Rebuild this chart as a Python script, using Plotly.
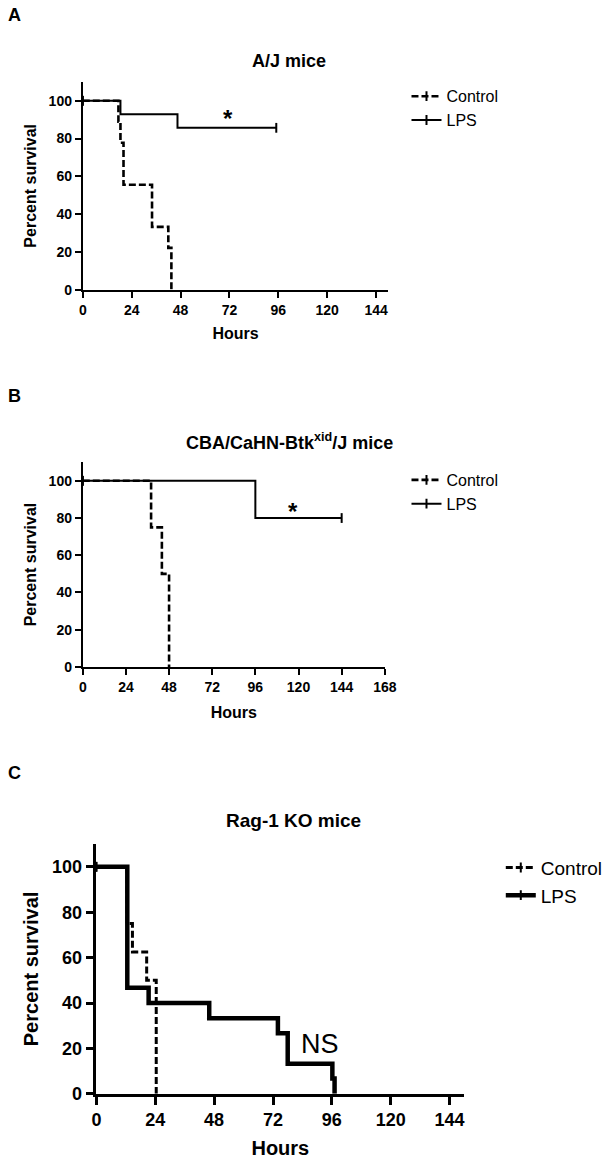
import plotly.graph_objects as go

# Kaplan-Meier step data (hours, percent survival)
a_ctrl_t = [0, 17.5, 18.5, 20, 34, 42, 43.5]
a_ctrl_s = [100, 88.9, 77.8, 55.6, 33.3, 22.2, 0]
a_lps_t = [0, 18.5, 46.5, 95]
a_lps_s = [100, 92.9, 85.7, 85.7]

b_ctrl_t = [0, 38, 44, 48]
b_ctrl_s = [100, 75, 50, 0]
b_lps_t = [0, 96, 144]
b_lps_s = [100, 80, 80]

c_ctrl_t = [0, 12.5, 14.7, 20.5, 24.4]
c_ctrl_s = [100, 75, 62.5, 50, 0]
c_lps_t = [0, 12.6, 21.3, 46, 74, 78, 96.2, 97.1]
c_lps_s = [100, 46.7, 40, 33.3, 26.7, 13.3, 6.7, 0]

panel_titles = ["A/J mice", "CBA/CaHN-Btk<sup>xid</sup>/J mice", "Rag-1 KO mice"]
panel_letters = ["A", "B", "C"]
notes = ["*", "*", "NS"]
note_pos = [(71.5, 90.5), (117, 83.5), (91, 22)]

x_ticks_ab = [0, 24, 48, 72, 96, 120, 144]
x_ticks_b = [0, 24, 48, 72, 96, 120, 144, 168]
y_ticks = [0, 20, 40, 60, 80, 100]

W, H = 610, 1165
FONT = "Liberation Sans, Arial, sans-serif"


def px(x):
    return x / W


def py(y):
    return 1 - y / H


def censor_colors(n, censored):
    # tick marker only on the first point (hidden on the y axis) and on a censored end
    cols = ["rgba(0,0,0,0)"] * n
    cols[0] = "black"
    if censored:
        cols[-1] = "black"
    return cols


panels = [
    dict(ctrl=(a_ctrl_t, a_ctrl_s), lps=(a_lps_t, a_lps_s), lps_cens=True,
         xd=(80, 394.3), yd=(292.3, 82.6), xr=150, xt=x_ticks_ab,
         lw_solid=2, lw_dash=2.6, ax_lw=2, ticklen=6, tick=14, axt=16, ttl=18,
         leg=16, note=24, xstand=11),
    dict(ctrl=(b_ctrl_t, b_ctrl_s), lps=(b_lps_t, b_lps_s), lps_cens=True,
         xd=(80, 390.7), yd=(672.7, 466.2), xr=168, xt=x_ticks_b,
         lw_solid=2, lw_dash=2.6, ax_lw=2, ticklen=6, tick=14, axt=16, ttl=18,
         leg=16, note=24, xstand=13),
    dict(ctrl=(c_ctrl_t, c_ctrl_s), lps=(c_lps_t, c_lps_s), lps_cens=False,
         xd=(94, 472.5), yd=(1103.3, 851.4), xr=150, xt=x_ticks_ab,
         lw_solid=4.5, lw_dash=3, ax_lw=2.5, ticklen=8, tick=18, axt=20, ttl=19,
         leg=19, note=27, xstand=12),
]

legend_pos = [(413, 80), (413, 467), (510, 856)]
title_pos = [(291.7, 62), (293, 445), (296.7, 828)]
letter_pos = [(1, 15), (1, 399), (1, 780)]

fig = go.Figure()
annotations = []
layout = {}

for i, p in enumerate(panels):
    k = "" if i == 0 else str(i + 1)
    xa, ya = "x" + k, "y" + k
    leg = "legend" + k
    ct, cs = p["ctrl"]
    lt, ls = p["lps"]
    fig.add_trace(go.Scatter(
        x=ct, y=cs, name="Control", mode="lines+markers", line_shape="hv",
        line=dict(color="black", width=p["lw_dash"], dash="7px,3px"),
        marker=dict(symbol="line-ns", size=7, color="black",
                    line=dict(width=2, color=censor_colors(len(ct), False))),
        xaxis=xa, yaxis=ya, legend=leg, cliponaxis=False))
    fig.add_trace(go.Scatter(
        x=lt, y=ls, name="LPS", mode="lines+markers", line_shape="hv",
        line=dict(color="black", width=p["lw_solid"]),
        marker=dict(symbol="line-ns", size=7, color="black",
                    line=dict(width=2, color=censor_colors(len(lt), p["lps_cens"]))),
        xaxis=xa, yaxis=ya, legend=leg, cliponaxis=False))

    axis_common = dict(showline=True, linewidth=p["ax_lw"], linecolor="black",
                       ticks="outside", ticklen=p["ticklen"], tickwidth=p["ax_lw"],
                       tickcolor="black", showgrid=False, zeroline=False,
                       tickfont=dict(family=FONT, size=p["tick"], color="black",
                                     weight="bold"))
    layout["xaxis" + k] = dict(
        axis_common, domain=[px(p["xd"][0]), px(p["xd"][1])], range=[0, p["xr"]],
        tickvals=p["xt"], anchor=ya,
        title=dict(text="Hours", standoff=p["xstand"],
                   font=dict(family=FONT, size=p["axt"], color="black", weight="bold")))
    layout["yaxis" + k] = dict(
        axis_common, domain=[py(p["yd"][0]), py(p["yd"][1])], range=[0, 110],
        tickvals=y_ticks, anchor=xa,
        title=dict(text="Percent survival", standoff=8,
                   font=dict(family=FONT, size=p["axt"], color="black", weight="bold")))
    lx, ly = legend_pos[i]
    layout[leg] = dict(x=px(lx), y=py(ly), xanchor="left", yanchor="top",
                       bgcolor="rgba(0,0,0,0)", itemwidth=30, tracegroupgap=0,
                       font=dict(family=FONT, size=p["leg"], color="black"))

    tx, ty = title_pos[i]
    annotations.append(dict(text=panel_titles[i], x=px(tx), y=py(ty), xref="paper",
                            yref="paper", showarrow=False, xanchor="center", yanchor="middle",
                            font=dict(family=FONT, size=p["ttl"], color="black", weight="bold")))
    lx2, ly2 = letter_pos[i]
    annotations.append(dict(text=panel_letters[i], x=px(lx2), y=py(ly2), xref="paper",
                            yref="paper", showarrow=False, xanchor="left", yanchor="middle",
                            font=dict(family=FONT, size=18, color="black", weight="bold")))
    nx, ny = note_pos[i]
    annotations.append(dict(text=notes[i], x=nx, y=ny, xref=xa, yref=ya, showarrow=False,
                            xanchor="center", yanchor="middle",
                            font=dict(family=FONT, size=p["note"], color="black",
                                      weight="bold" if notes[i] == "*" else "normal")))

fig.update_layout(
    width=W, height=H, autosize=False,
    margin=dict(l=0, r=0, t=0, b=0),
    paper_bgcolor="white", plot_bgcolor="white",
    annotations=annotations,
    **layout,
)

# drop the browser's default body margin so the figure sits at the page origin
fig.write_html("out.html", config={"displayModeBar": False},
               post_script="document.body.style.margin='0';")
